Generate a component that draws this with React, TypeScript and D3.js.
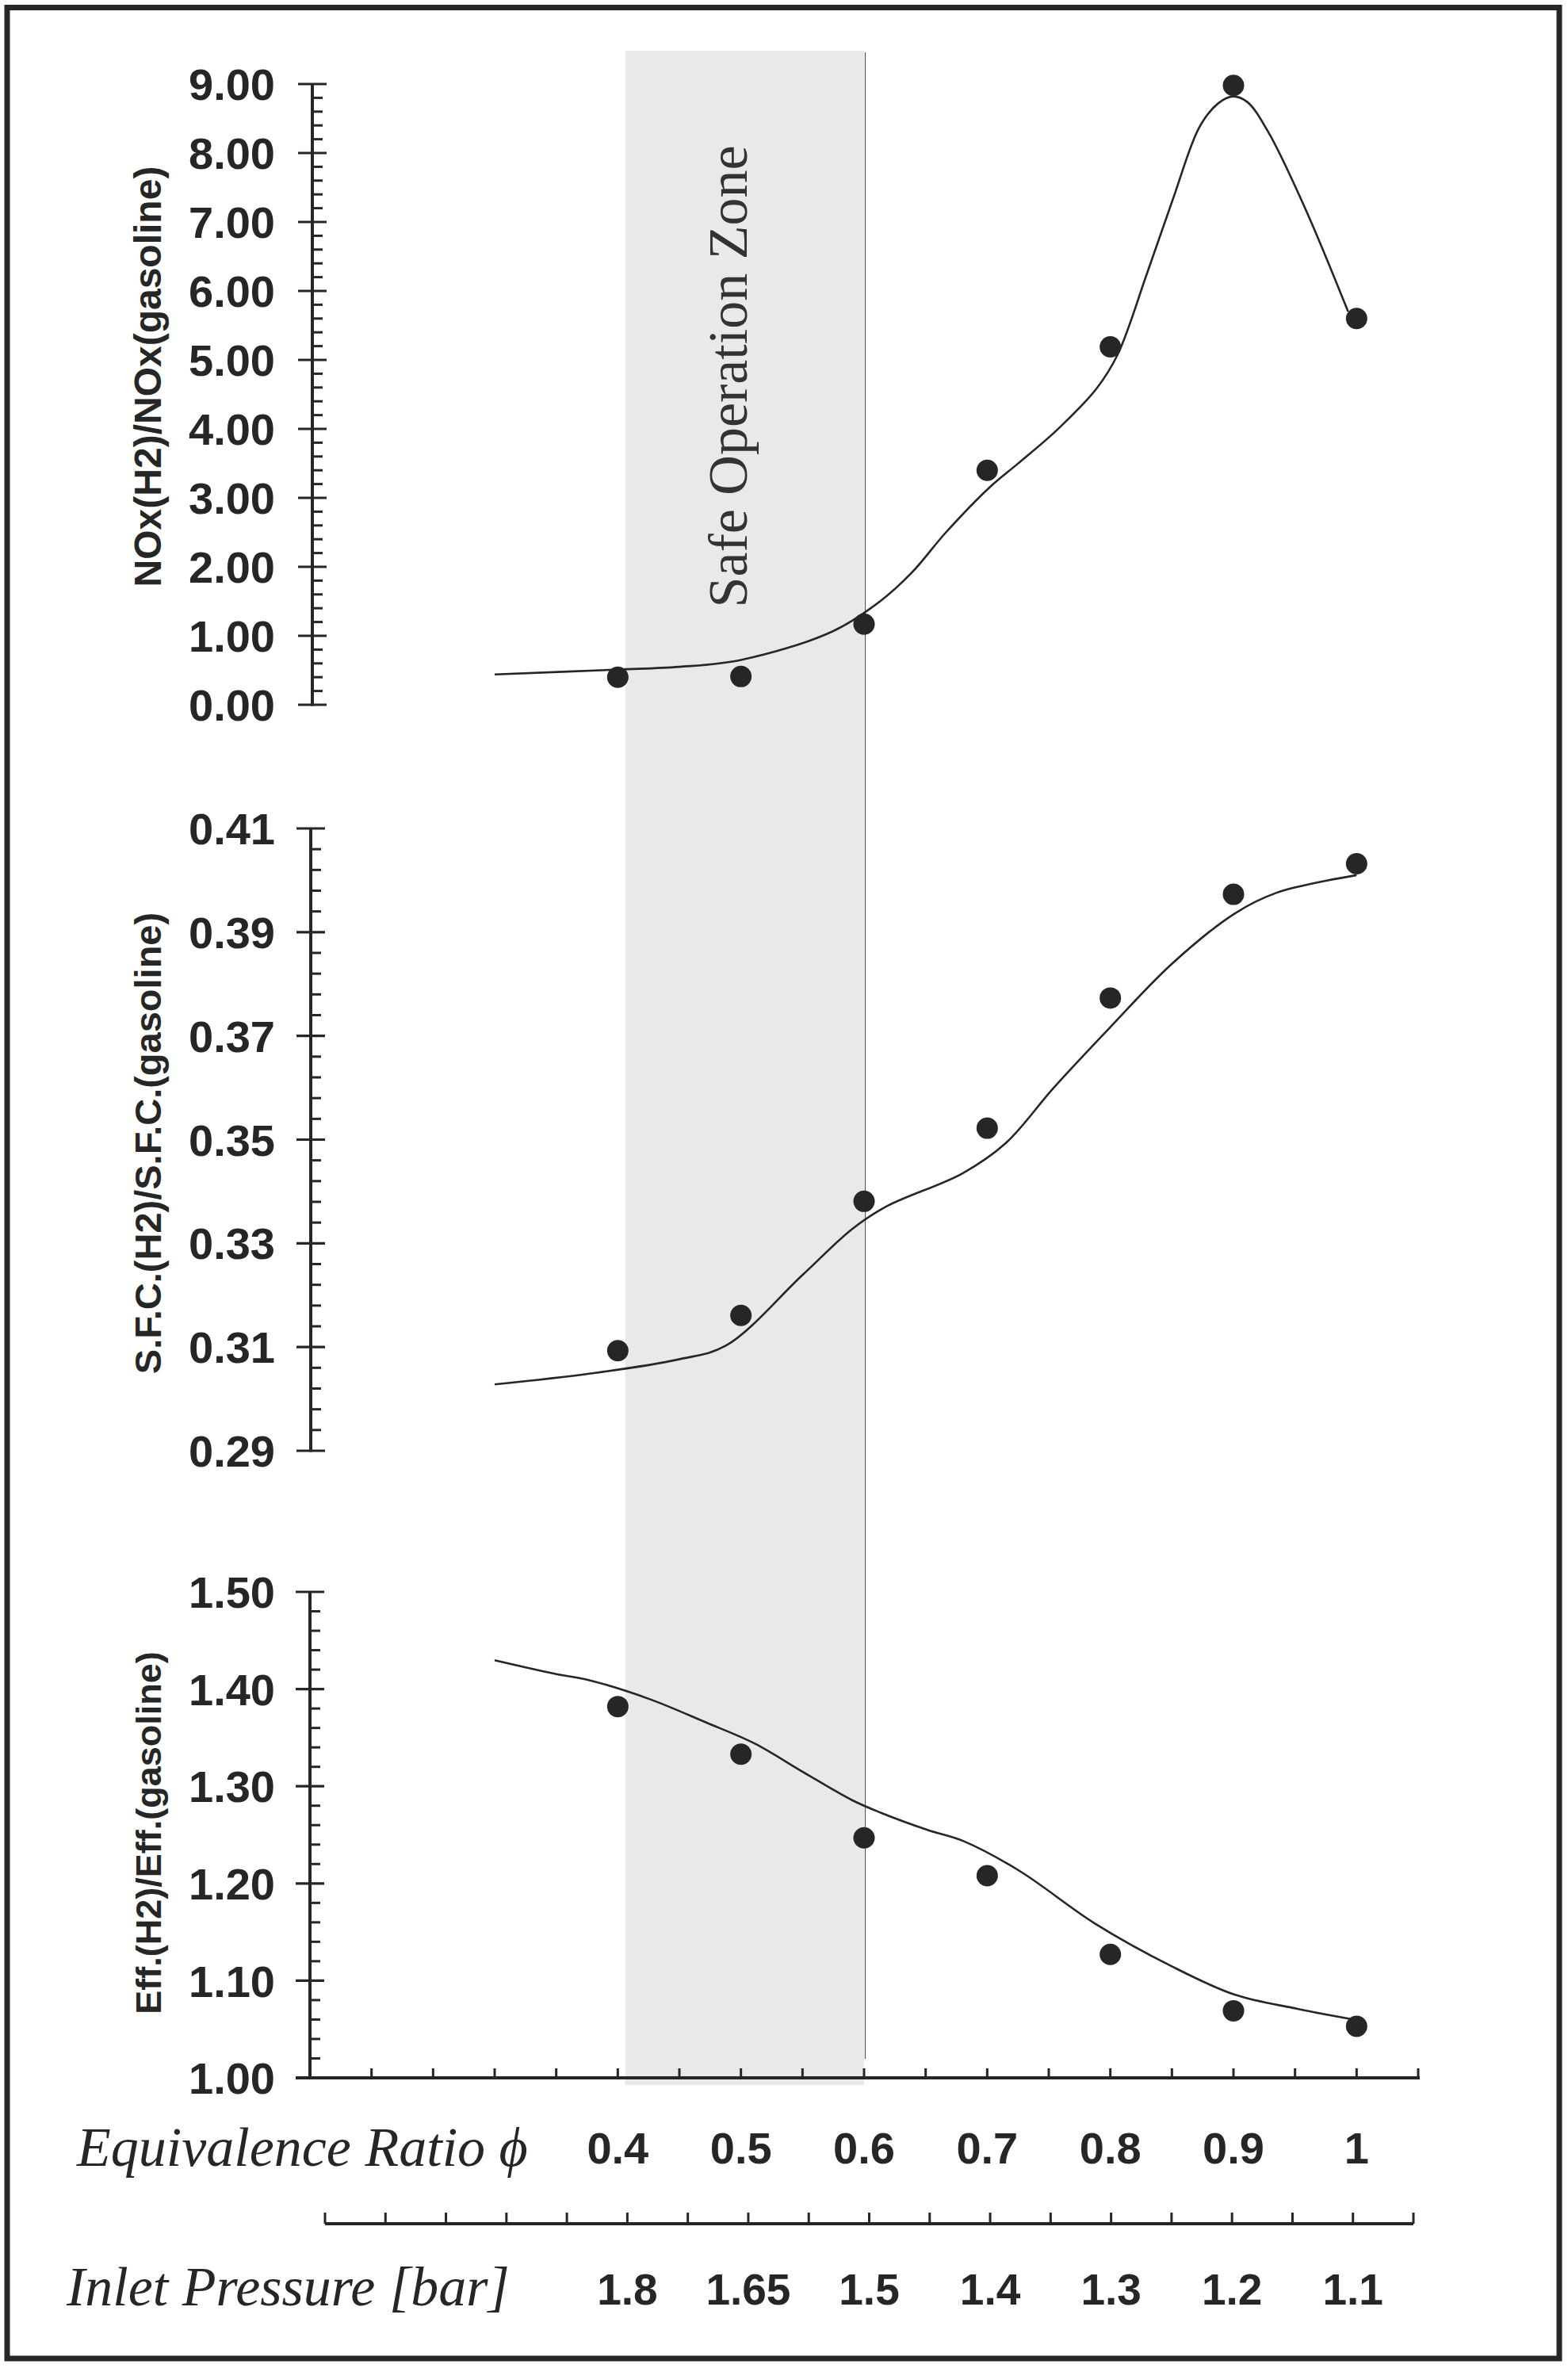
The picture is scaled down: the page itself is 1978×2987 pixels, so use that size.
import React from 'react';
import * as d3 from 'd3';

// ---------- data ----------
const phiValues = [0.4, 0.5, 0.6, 0.7, 0.8, 0.9, 1.0];
const phiLabels = ['0.4', '0.5', '0.6', '0.7', '0.8', '0.9', '1'];
const pressureLabels = ['1.8', '1.65', '1.5', '1.4', '1.3', '1.2', '1.1'];
const pressureTickIndex = [5, 7, 9, 11, 13, 15, 17];

const noxDots = [0.40, 0.41, 1.17, 3.40, 5.19, 8.98, 5.60];
const sfcDots = [0.3093, 0.3161, 0.3381, 0.3522, 0.3773, 0.3973, 0.4032];
const effDots = [1.382, 1.333, 1.247, 1.208, 1.127, 1.069, 1.053];

const noxFitX = [0.30, 0.40, 0.45, 0.50, 0.574, 0.613, 0.639, 0.6665, 0.703, 0.7245, 0.757, 0.789, 0.806, 0.8297, 0.851, 0.8725, 0.8876, 0.8994, 0.9112, 0.9284, 0.9584, 0.9931];
const noxFitY = [0.44, 0.51, 0.55, 0.65, 1.06, 1.50, 1.92, 2.50, 3.17, 3.49, 3.99, 4.59, 5.08, 6.25, 7.34, 8.38, 8.72, 8.82, 8.74, 8.30, 7.19, 5.70];

const sfcFitX = [0.30, 0.378, 0.449, 0.488, 0.55, 0.59, 0.618, 0.68, 0.715, 0.754, 0.80, 0.85, 0.901, 0.935, 1.0];
const sfcFitY = [0.3028, 0.3049, 0.3076, 0.3103, 0.3239, 0.3327, 0.3371, 0.3435, 0.3493, 0.3600, 0.3717, 0.3839, 0.3936, 0.3976, 0.4010];

const effFitX = [0.30, 0.351, 0.375, 0.426, 0.471, 0.511, 0.55, 0.59, 0.613, 0.652, 0.68, 0.726, 0.788, 0.85, 0.901, 0.952, 0.997];
const effFitY = [1.4297, 1.4152, 1.4097, 1.3896, 1.3660, 1.3441, 1.3150, 1.2859, 1.2731, 1.2549, 1.2440, 1.2131, 1.1584, 1.1147, 1.0856, 1.0710, 1.0601];

const safeZone = [0.406, 0.6];
const safeZoneLabel = 'Safe Operation Zone';

const panelTitles = ['NOx(H2)/NOx(gasoline)', 'S.F.C.(H2)/S.F.C.(gasoline)', 'Eff.(H2)/Eff.(gasoline)'];
const panelDomains = [[0, 9], [0.29, 0.41], [1.0, 1.5]];
const panelMajorSteps = [1, 0.02, 0.1];
const panelMinorPerMajor = [5, 5, 5];

// ---------- layout ----------
const W = 1978;
const H = 2987;
const INK = '#262626';

const xScale = d3.scaleLinear().domain([0.15, 1.05]).range([391, 1789]);
const pScale = d3.scaleLinear().domain([0, 18]).range([410, 1783]);

const panels = [
  { axisX: 394, yRange: [889, 106], titleY: 475, titleSize: 48, dots: noxDots, fx: noxFitX, fy: noxFitY },
  { axisX: 392, yRange: [1830, 1045], titleY: 1442, titleSize: 47, dots: sfcDots, fx: sfcFitX, fy: sfcFitY },
  { axisX: 391, yRange: [2621, 2008], titleY: 2312, titleSize: 45, dots: effDots, fx: effFitX, fy: effFitY },
];

const fmt = d3.format('.2f');

function Panel({ idx }: { idx: number }) {
  const p = panels[idx];
  const dom = panelDomains[idx];
  const y = d3.scaleLinear().domain(dom).range(p.yRange);
  const major = panelMajorSteps[idx];
  const per = panelMinorPerMajor[idx];
  const minor = major / per;
  const n = Math.round((dom[1] - dom[0]) / minor);
  const ticks = d3.range(n + 1).map((i) => ({ v: dom[0] + i * minor, isMajor: i % per === 0 }));
  const line = d3
    .line<number>()
    .x((_, i) => xScale(p.fx[i]))
    .y((d) => y(d))
    .curve(d3.curveCatmullRom.alpha(0.5));
  return (
    <g>
      <line x1={p.axisX} x2={p.axisX} y1={y(dom[0]) + 1.5} y2={y(dom[1])} stroke={INK} strokeWidth={4} />
      {ticks.map((t, i) =>
        t.isMajor ? (
          <g key={i}>
            <line x1={p.axisX - 18} x2={p.axisX + 18} y1={y(t.v)} y2={y(t.v)} stroke={INK} strokeWidth={3.2} />
            <text
              x={347}
              y={y(t.v)}
              dy="0.36em"
              textAnchor="end"
              fontFamily="'Liberation Sans', Arial, sans-serif"
              fontWeight="bold"
              fontSize={56}
              fill={INK}
            >
              {fmt(t.v)}
            </text>
          </g>
        ) : (
          <line key={i} x1={p.axisX} x2={p.axisX + 13} y1={y(t.v)} y2={y(t.v)} stroke={INK} strokeWidth={3} />
        )
      )}
      <text
        transform={`translate(203, ${p.titleY}) rotate(-90)`}
        textAnchor="middle"
        fontFamily="'Liberation Sans', Arial, sans-serif"
        fontWeight="bold"
        fontSize={p.titleSize}
        fill={INK}
      >
        {panelTitles[idx]}
      </text>
      <path d={line(p.fy) || ''} fill="none" stroke={INK} strokeWidth={2.6} />
      {p.dots.map((d, i) => (
        <circle key={i} cx={xScale(phiValues[i])} cy={y(d)} r={13.5} fill={INK} />
      ))}
    </g>
  );
}

export default function App() {
  const axisY = 2621;
  const xTickIdx = d3.range(1, 19);
  const pAxisY = 2805;
  return (
    <div style={{ position: 'absolute', left: 0, top: 0 }}>
      <svg width={W} height={H} viewBox={`0 0 ${W} ${H}`} style={{ display: 'block', background: '#fff' }}>
        <rect x={0} y={0} width={W} height={H} fill="#fff" />
        {/* safe operation zone */}
        <rect x={xScale(safeZone[0])} y={64} width={xScale(safeZone[1]) - xScale(safeZone[0])} height={2630 - 64} fill="#e9e9e9" />
        <line x1={xScale(safeZone[1]) + 1.5} x2={xScale(safeZone[1]) + 1.5} y1={66} y2={2597} stroke="#555" strokeWidth={1.2} />
        <text
          transform={`translate(942, 475) rotate(-90)`}
          textAnchor="middle"
          fontFamily="'Liberation Serif', 'Times New Roman', serif"
          fontSize={70}
          fill="#333"
        >
          {safeZoneLabel}
        </text>

        <Panel idx={0} />
        <Panel idx={1} />
        <Panel idx={2} />

        {/* equivalence ratio axis */}
        <line x1={373} x2={1791} y1={axisY} y2={axisY} stroke={INK} strokeWidth={4} />
        {xTickIdx.map((k) => {
          const xv = 0.15 + k * 0.05;
          return <line key={k} x1={xScale(xv)} x2={xScale(xv)} y1={axisY - 12} y2={axisY} stroke={INK} strokeWidth={3} />;
        })}
        {phiValues.map((v, i) => (
          <text
            key={i}
            x={xScale(v)}
            y={2729}
            textAnchor="middle"
            fontFamily="'Liberation Sans', Arial, sans-serif"
            fontWeight="bold"
            fontSize={56}
            fill={INK}
          >
            {phiLabels[i]}
          </text>
        ))}
        <text x={97} y={2732} fontFamily="'Liberation Serif', 'Times New Roman', serif" fontStyle="italic" fontSize={70} fill={INK}>
          Equivalence Ratio ϕ
        </text>

        {/* inlet pressure axis */}
        <line x1={pScale(0)} x2={pScale(18)} y1={pAxisY} y2={pAxisY} stroke={INK} strokeWidth={4} />
        {d3.range(0, 19).map((k) => (
          <line key={k} x1={pScale(k)} x2={pScale(k)} y1={pAxisY - 14} y2={pAxisY} stroke={INK} strokeWidth={3} />
        ))}
        {pressureLabels.map((l, i) => (
          <text
            key={i}
            x={pScale(pressureTickIndex[i])}
            y={2907}
            textAnchor="middle"
            fontFamily="'Liberation Sans', Arial, sans-serif"
            fontWeight="bold"
            fontSize={55}
            fill={INK}
          >
            {l}
          </text>
        ))}
        <text x={84} y={2908} fontFamily="'Liberation Serif', 'Times New Roman', serif" fontStyle="italic" fontSize={70} fill={INK}>
          Inlet Pressure [bar]
        </text>

        {/* frame */}
        <rect x={9} y={9.5} width={1958} height={2965.5} fill="none" stroke={INK} strokeWidth={7} />
      </svg>
    </div>
  );
}
